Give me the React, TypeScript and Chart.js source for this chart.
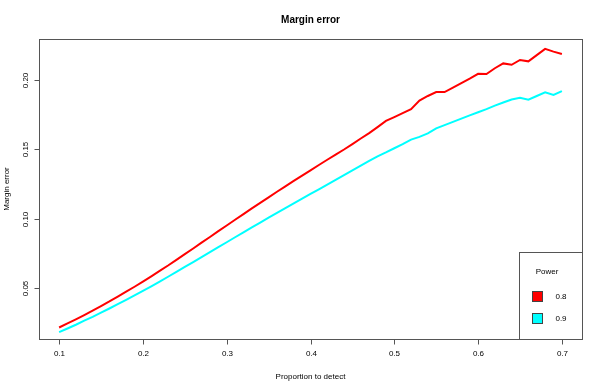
import React, { useEffect, useRef } from "react";
import { Chart, registerables } from "chart.js";

Chart.register(...registerables);

const chartTitle = "Margin error";
const xAxisTitle = "Proportion to detect";
const yAxisTitle = "Margin error";
const legendTitle = "Power";

const proportions = [
  0.10, 0.11, 0.12, 0.13, 0.14, 0.15, 0.16, 0.17, 0.18, 0.19,
  0.20, 0.21, 0.22, 0.23, 0.24, 0.25, 0.26, 0.27, 0.28, 0.29,
  0.30, 0.31, 0.32, 0.33, 0.34, 0.35, 0.36, 0.37, 0.38, 0.39,
  0.40, 0.41, 0.42, 0.43, 0.44, 0.45, 0.46, 0.47, 0.48, 0.49,
  0.50, 0.51, 0.52, 0.53, 0.54, 0.55, 0.56, 0.57, 0.58, 0.59,
  0.60, 0.61, 0.62, 0.63, 0.64, 0.65, 0.66, 0.67, 0.68, 0.69,
  0.70,
];

const power08 = [
  0.0215, 0.0244, 0.0274, 0.0305, 0.0337, 0.0370, 0.0403, 0.0438, 0.0473, 0.0509,
  0.0546, 0.0584, 0.0623, 0.0662, 0.0703, 0.0744, 0.0785, 0.0827, 0.0868, 0.0910,
  0.0951, 0.0992, 0.1033, 0.1074, 0.1114, 0.1154, 0.1194, 0.1233, 0.1272, 0.1311,
  0.1349, 0.1387, 0.1425, 0.1462, 0.1499, 0.1538, 0.1578, 0.1617, 0.1660, 0.1705,
  0.1733, 0.1762, 0.1790, 0.1852, 0.1885, 0.1913, 0.1913, 0.1945, 0.1978, 0.2010,
  0.2045, 0.2043, 0.2085, 0.2120, 0.2110, 0.2145, 0.2135, 0.2180, 0.2225, 0.2205,
  0.2188,
];

const power09 = [
  0.0181, 0.0208, 0.0235, 0.0264, 0.0292, 0.0322, 0.0352, 0.0383, 0.0414, 0.0446,
  0.0479, 0.0512, 0.0546, 0.0581, 0.0616, 0.0652, 0.0687, 0.0723, 0.0759, 0.0794,
  0.0830, 0.0866, 0.0901, 0.0937, 0.0972, 0.1007, 0.1042, 0.1076, 0.1110, 0.1144,
  0.1178, 0.1212, 0.1246, 0.1280, 0.1314, 0.1348, 0.1382, 0.1416, 0.1450, 0.1478,
  0.1508, 0.1537, 0.1570, 0.1590, 0.1615, 0.1652, 0.1675, 0.1698, 0.1722, 0.1745,
  0.1768, 0.1790, 0.1815, 0.1838, 0.1860, 0.1872, 0.1858, 0.1885, 0.1912, 0.1892,
  0.1920,
];

const seriesLabels = ["0.8", "0.9"];
const seriesColors = ["#FF0000", "#00FFFF"];

const xTicks = [0.1, 0.2, 0.3, 0.4, 0.5, 0.6, 0.7];
const xTickLabels = ["0.1", "0.2", "0.3", "0.4", "0.5", "0.6", "0.7"];
const yTicks = [0.05, 0.1, 0.15, 0.2];
const yTickLabels = ["0.05", "0.10", "0.15", "0.20"];

const FONT = "'Liberation Sans', Arial, Helvetica, sans-serif";

const axesPlugin = {
  id: "rAxes",
  afterDraw(chart: any) {
    const { ctx, chartArea: a, scales } = chart;
    const xs = scales.x;
    const ys = scales.y;
    ctx.save();
    const L = Math.round(a.left) + 0.5;
    const T = Math.round(a.top) + 0.5;
    const R = Math.round(a.right) + 0.5;
    const B = Math.round(a.bottom) + 0.5;

    ctx.strokeStyle = "#555";
    ctx.lineWidth = 1;
    ctx.strokeRect(L, T, R - L, B - T);

    ctx.fillStyle = "#000";
    ctx.font = `8px ${FONT}`;
    ctx.textAlign = "center";
    ctx.textBaseline = "middle";
    xTicks.forEach((t, i) => {
      const px = Math.round(xs.getPixelForValue(t)) + 0.5;
      ctx.beginPath();
      ctx.moveTo(px, B);
      ctx.lineTo(px, B + 5);
      ctx.stroke();
      ctx.fillText(xTickLabels[i], px, 354);
    });
    yTicks.forEach((t, i) => {
      const py = Math.round(ys.getPixelForValue(t)) + 0.5;
      ctx.beginPath();
      ctx.moveTo(L - 5, py);
      ctx.lineTo(L, py);
      ctx.stroke();
      ctx.save();
      ctx.translate(26, py);
      ctx.rotate(-Math.PI / 2);
      ctx.fillText(yTickLabels[i], 0, 0);
      ctx.restore();
    });

    ctx.fillText(xAxisTitle, (a.left + a.right) / 2, 377);
    ctx.save();
    ctx.translate(7, (a.top + a.bottom) / 2);
    ctx.rotate(-Math.PI / 2);
    ctx.fillText(yAxisTitle, 0, 0);
    ctx.restore();

    ctx.font = `bold 10px ${FONT}`;
    ctx.fillText(chartTitle, (a.left + a.right) / 2, 20);

    // legend
    const lx = 519.5, ly = 252.5, lw = R - lx, lh = B - ly;
    ctx.fillStyle = "#fff";
    ctx.fillRect(lx, ly, lw, lh);
    ctx.strokeStyle = "#555";
    ctx.strokeRect(lx, ly, lw, lh);
    ctx.fillStyle = "#000";
    ctx.font = `8px ${FONT}`;
    ctx.fillText(legendTitle, 547, 272);
    seriesLabels.forEach((lab, i) => {
      const cy = 296 + i * 22;
      ctx.fillStyle = seriesColors[i];
      ctx.fillRect(532, cy - 5, 11, 11);
      ctx.strokeStyle = "#444";
      ctx.strokeRect(532.5, cy - 4.5, 10, 10);
      ctx.fillStyle = "#000";
      ctx.fillText(lab, 561, cy + 0.5);
    });
    ctx.restore();
  },
};

export default function App() {
  const ref = useRef<HTMLCanvasElement>(null);
  useEffect(() => {
    if (!ref.current) return;
    const chart = new Chart(ref.current, {
      type: "line",
      data: {
        datasets: [power08, power09].map((vals, i) => ({
          label: seriesLabels[i],
          data: proportions.map((p, j) => ({ x: p, y: vals[j] })),
          borderColor: seriesColors[i],
          backgroundColor: seriesColors[i],
          borderWidth: 2,
          pointRadius: 0,
          tension: 0,
          fill: false,
        })),
      },
      options: {
        responsive: false,
        animation: false,
        devicePixelRatio: 1,
        layout: { padding: { left: 39, top: 39, right: 20, bottom: 50 } },
        plugins: {
          legend: { display: false },
          title: { display: false },
          tooltip: { enabled: false },
        },
        scales: {
          x: { type: "linear", min: 0.076, max: 0.724, display: false },
          y: { type: "linear", min: 0.0132, max: 0.2296, display: false },
        },
      },
      plugins: [axesPlugin],
    });
    return () => chart.destroy();
  }, []);
  return (
    <div style={{ position: "fixed", left: 0, top: 0, width: 602, height: 389, background: "#fff" }}>
      <canvas ref={ref} width={602} height={389} style={{ display: "block" }} />
    </div>
  );
}
